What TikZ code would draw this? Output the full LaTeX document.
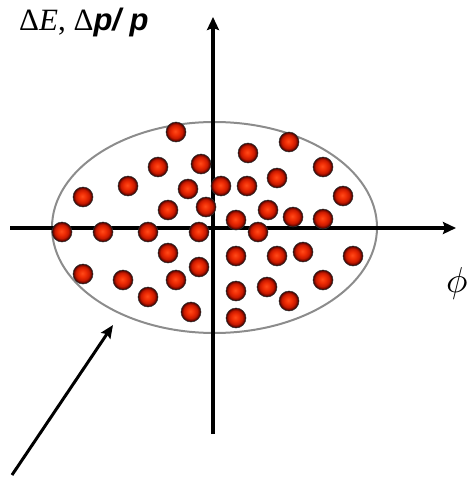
\documentclass[tikz,border=0pt]{standalone}
\usepackage{fontspec}
\setmainfont{Liberation Serif}
\newfontfamily\lsans{Liberation Sans}
\usetikzlibrary{arrows.meta,shapes.geometric}
\pgfdeclareradialshading{redball}{\pgfpoint{-2bp}{2bp}}{%
  color(0bp)=(rgb,255:red,255;green,75;blue,25);
  color(9bp)=(rgb,255:red,240;green,45;blue,5);
  color(17bp)=(rgb,255:red,200;green,25;blue,0);
  color(22bp)=(rgb,255:red,110;green,8;blue,0);
  color(25bp)=(rgb,255:red,30;green,0;blue,0);
  color(50bp)=(black)}
\tikzset{
  ball/.style={circle, inner sep=0pt, minimum size=20pt, shading=redball, draw=black!80, line width=0.5pt},
  axis/.style={line width=4pt, -{Stealth[length=13pt,width=12pt,inset=2pt]}},
  env/.style={draw=gray!90, line width=2pt},
  pointer/.style={line width=3pt, -{Stealth[length=13pt,width=11pt,inset=2pt]}},
}
\begin{document}
\begin{tikzpicture}[x=1pt,y=-1pt]
\useasboundingbox (0,0) rectangle (467,479);
% envelope
\node[env, ellipse, minimum width=325pt, minimum height=211pt, inner sep=0pt] (envelope) at (214.5,227.5) {};
% axes
\coordinate (xs) at (10,228);
\coordinate (xe) at (456,228);
\coordinate (ys) at (213,434);
\coordinate (ye) at (213,17);
\draw[axis] (xs) -- (xe);
\draw[axis] (ys) -- (ye);
% balls
\foreach \i/\x/\y in {1/176/132, 2/158/167, 3/201/164, 4/128/186, 5/83/197, 6/188/189,
  7/221/186, 8/168/210, 9/206/207, 10/62/232, 11/103/232, 12/148/232, 13/199/232,
  14/168/253, 15/199/267, 16/83/274, 17/123/280, 18/176/280, 19/148/297, 20/191/312,
  21/289/142, 22/248/153, 23/323/167, 24/277/178, 25/247/186, 26/343/196, 27/268/210,
  28/293/217, 29/323/219, 30/236/220, 31/258/232, 32/236/256, 33/277/256, 34/303/252,
  35/353/256, 36/267/287, 37/323/280, 38/236/291, 39/289/301, 40/236/318}
  \node[ball] (b\i) at (\x,\y) {};
% pointer arrow
\coordinate (ptail) at (12,475);
\coordinate (phead) at (113,325);
\draw[pointer] (ptail) -- (phead);
% labels
\node[anchor=base west, inner sep=0pt, font=\fontsize{31}{36}\selectfont] (ylabel) at (19,30)
  {Δ\textit{E}, Δ{\lsans\bfseries\itshape p/ p}};
\node[anchor=west, inner sep=0pt] (xlabel) at (446,283) {\scalebox{3.6}{$\phi$}};
\end{tikzpicture}
\end{document}
